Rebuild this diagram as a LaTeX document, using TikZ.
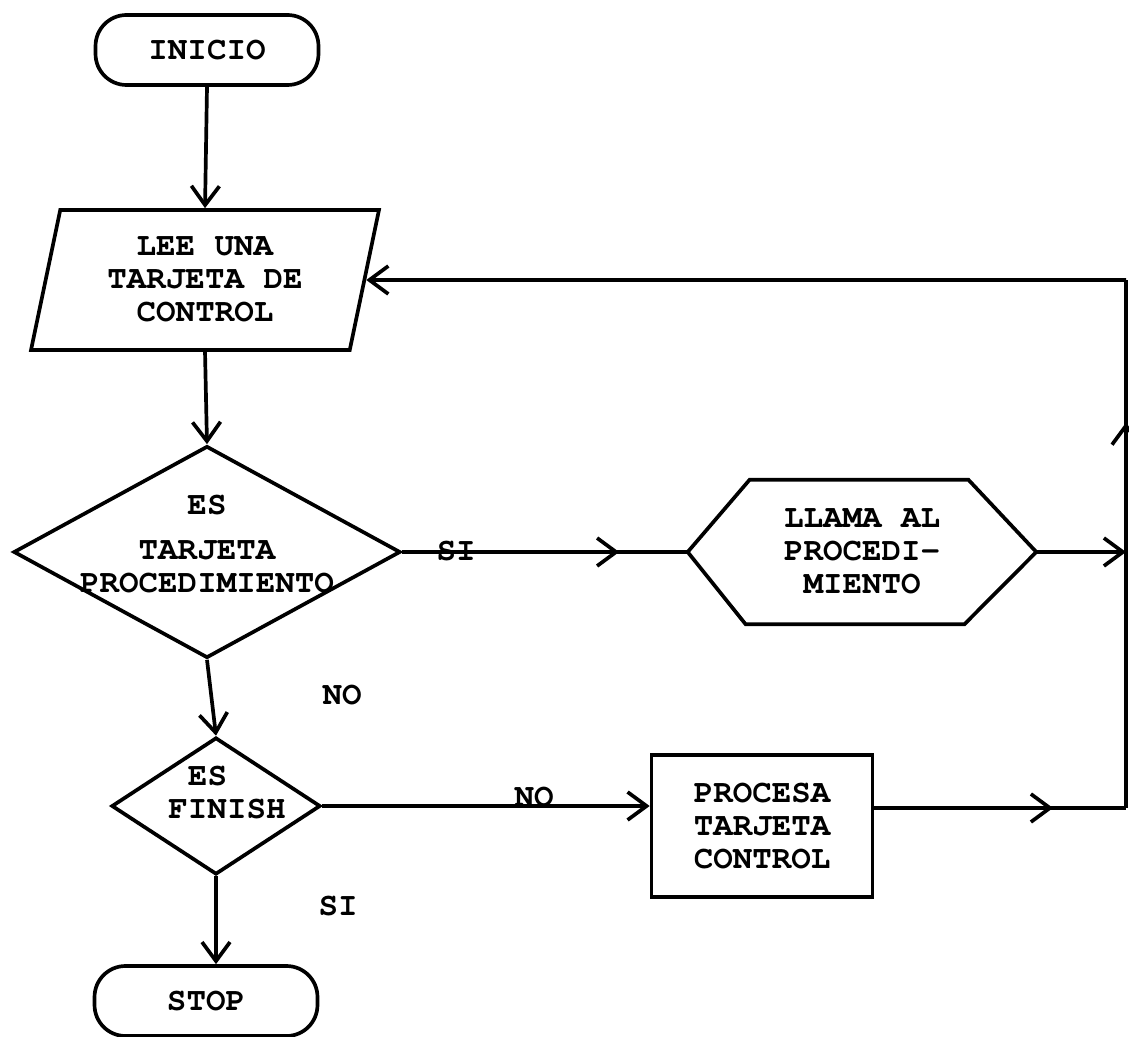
\documentclass[tikz,border=0pt]{standalone}
\usepackage[T1]{fontenc}
\usetikzlibrary{shapes.geometric,arrows.meta,decorations.markings}

\begin{document}
\begin{tikzpicture}[x=0.02cm,y=-0.02cm,line width=2.1pt,
  >={Straight Barb[length=0.38cm,width=0.56cm]},
  every node/.style={font=\fontfamily{pcr}\bfseries\fontsize{18.5}{18.8}\selectfont,align=center},
  terminal/.style={draw,rectangle,rounded corners=0.62cm,minimum width=4.46cm,minimum height=1.4cm,inner sep=0pt},
  lectura/.style={draw,trapezium,trapezium left angle=71,trapezium right angle=109,
    trapezium stretches body,minimum width=6.96cm,minimum height=2.8cm,inner sep=0pt},
  decision/.style={draw,diamond,inner sep=0pt},
  llamada/.style={rectangle,minimum width=6.9cm,minimum height=2.82cm,inner sep=0pt},
  proceso/.style={draw,rectangle,minimum width=4.42cm,minimum height=2.84cm,inner sep=0pt},
  flecha/.style={->},
  midarrow/.style={postaction={decorate,decoration={markings,mark=at position #1 with {\arrow{>}}}}}]
\useasboundingbox (0,0) rectangle (1129,1037);

% bloques
\node[terminal] (inicio) at (207,50) {INICIO};
\node[lectura] (lee) at (205,280) {LEE UNA\\TARJETA DE\\CONTROL};
\node[decision,minimum width=7.74cm,minimum height=4.24cm] (es) at (207,552) {};
\node (estxt) at (207,544) {ES\\[0.24cm]TARJETA\\PROCEDIMIENTO};
\node[llamada] (llama) at (862,552) {LLAMA AL\\PROCEDI-\\MIENTO};
\draw (llama.west) -- ([xshift=1.24cm]llama.north west) -- ([xshift=-1.36cm]llama.north east)
  -- (llama.east) -- ([xshift=-1.44cm]llama.south east) -- ([xshift=1.16cm]llama.south west) -- cycle;
\node[decision,minimum width=4.18cm,minimum height=2.74cm] (fin) at (216,806) {};
\node[align=left] (fintxt) at (227,793) {\hphantom{F}ES\\FINISH};
\node[proceso] (proc) at (762,826) {PROCESA\\TARJETA\\CONTROL};
\node[terminal] (stop) at (206,1001) {STOP};

% retorno
\coordinate (rb) at (1126,808);
\coordinate (rt) at (1126,280);

% conectores
\draw[flecha] (inicio.south) -- (lee.north);
\draw[flecha] (lee.south) -- (es.north);
\draw[midarrow=0.76] (es.east) -- (llama.west);
\draw[flecha] (llama.east) -- (llama.east -| rb);
\draw[flecha] (es.south) -- (fin.north);
\draw[flecha] (fin.east) -- (fin.east -| proc.west);
\draw[flecha] (fin.south) -- (fin.south |- stop.north);
\draw[midarrow=0.71] (proc.east |- rb) -- (rb);
\draw[midarrow=0.73] (rb) -- (rt);
\draw[flecha] (rt) -- (lee.east);

% etiquetas
\node (si1) at (456,551) {SI};
\node (no1) at (342,695) {NO};
\node (no2) at (534,797) {NO};
\node (si2) at (338,906) {SI};
\end{tikzpicture}
\end{document}
